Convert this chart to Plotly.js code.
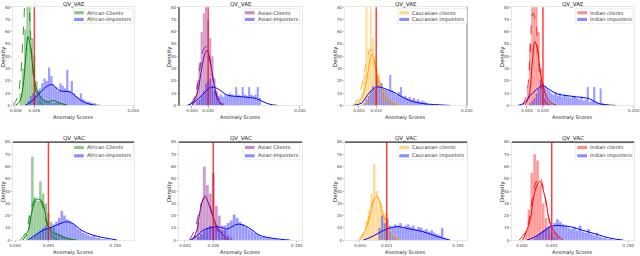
<!DOCTYPE html>
<html><head><meta charset="utf-8">
<script src="https://cdn.plot.ly/plotly-3.0.1.min.js"></script>
<style>html,body{margin:0;padding:0;background:#fff}#chart{width:640px;height:256px}</style>
</head><body><div id="chart"></div>
<script>
// ---------------- DATA ----------------
const titles = ["QV_VAE","QV_VAE","QV_VAE","QV_VAE","QV_VAC","QV_VAC","QV_VAC","QV_VAC"];
const clientLabels = ["African-Clients","Asian-Clients","Caucasian clients","Indian clients",
                      "African Clients","Asian Clients","Caucasian clients","Indian clients"];
const imposterLabels = ["African-Imposters","Asian-Imposters","Caucasian imposters","Indian imposters",
                        "African-Imposters","Asian-Imposters","Caucasian imposters","Indian imposters"];
const thresholds = [0.026,0.030,0.032,0.030,0.050,0.038,0.041,0.042];
const tickLeft  = [-0.008,0,0,0,0,0,0,0];
const tickRight = [0.2,0.2,0.2,0.2,0.15,0.15,0.15,0.15];
const xRanges = [[-0.0115,0.2014],[-0.024,0.204],[-0.026,0.2005],[-0.028,0.2005],
                 [-0.003,0.178],[-0.008,0.157],[-0.023,0.164],[-0.014,0.158]];
const yTicks = [0,10,20,30,40,50,60,70,80];
const binWidth = 0.004;

const clientStart = [0.000,0.000,0.000,0.000,0.016,0.012,0.004,0.004];
const clientHeights = [
  [10,30,62,90,85,55,40,20,12,8,5,4,3,3,2,2,3,2,2,1,1],
  [3,8,18,35,60,75,85,70,55,40,22,12,6,3,2],
  [4,10,25,82,45,85,55,40,30,25,18,12,8,6,4,3,2,1],
  [15,50,90,95,88,60,30,12,6,4,2,1],
  [5,20,68,35,32,48,38,30,22,15,10,6,5,4,3,2,2,1],
  [4,15,30,60,45,38,55,28,20,12,8,4,2],
  [6,15,25,38,62,40,28,25,22,12,6,3,2],
  [8,25,55,70,65,45,30,18,10,5,3,2]
];
const imposterStart = [0.014,0.008,0.008,0.004,0.024,0.016,0.028,0.016];
const imposterHeights = [
  [4,8,10,9,12,14,18,22,20,31,24,17,15,12,18,16,14,29,12,20,10,8,6,10,5,4,3,3,2,2,1,1],
  [3,5,8,12,18,20,22,16,12,10,8,9,7,9,8,10,9,8,15,9,8,15,9,8,15,9,8,9,15,6],
  [2,5,8,12,16,14,25,16,18,14,13,12,25,12,10,9,11,15,7,8,6,7,5,6,4,5,3,4,3,2,1],
  [2,4,6,10,14,21,18,16,14,12,10,9,11,8,10,7,9,8,7,6,8,7,6,5,7,4,5,15,3,4,15,3,2,14,2,1,1],
  [2,4,6,8,10,12,9,11,13,15,18,24,20,17,16,14,12,9,8,6,5,4,3,4,2,2,1,1,1],
  [3,5,8,10,12,11,10,9,8,12,14,16,21,18,15,13,11,9,8,6,5,3,3,2,2,1,1],
  [10,20,14,18,12,11,13,12,14,10,12,13,11,12,9,11,10,8,9,7,8,6,5,4,10,2],
  [2,4,6,8,10,12,11,14,17,15,13,12,10,9,11,8,12,7,6,9,5,4,6,3,2,2,1,1]
];
const clientKdeX = [
  [-0.008,0.000,0.006,0.011,0.015,0.020,0.025,0.031,0.040,0.050,0.059,0.071,0.084],
  [0.000,0.010,0.018,0.024,0.028,0.033,0.040,0.046,0.052,0.058],
  [-0.008,0.005,0.014,0.020,0.024,0.028,0.034,0.044,0.052,0.061,0.076],
  [-0.004,0.004,0.010,0.015,0.020,0.024,0.030,0.039,0.048,0.056],
  [0.012,0.020,0.026,0.032,0.038,0.043,0.048,0.056,0.063,0.070,0.080,0.092],
  [0.010,0.016,0.020,0.024,0.027,0.031,0.035,0.040,0.045,0.050,0.058],
  [0.000,0.012,0.020,0.026,0.034,0.041,0.051,0.061],
  [0.001,0.011,0.018,0.025,0.033,0.040,0.050,0.058]
];
const clientKdeY = [
  [0,3,15,40,56,45,25,12,5,3,4,2,0],
  [0,10,30,42,45,38,20,8,2,0],
  [0,6,20,36,42,36,24,13,6,3,0],
  [0,8,35,52,45,31,16,5,1.5,0],
  [0,8,25,33,33,28,14,6,5,3,1,0],
  [0,8,23,33,36,31,24,15,9,5,0],
  [0,13,31,36,23,13,4,0],
  [0,15,39,48,34,13,4,0]
];
const clientFitX = [
  [-0.012,-0.004,0.002,0.007,0.011,0.016,0.021,0.027,0.034,0.042],
  [-0.004,0.006,0.014,0.020,0.026,0.032,0.038,0.045,0.054],
  [-0.012,-0.002,0.008,0.016,0.022,0.028,0.036,0.046,0.058],
  [-0.008,0.000,0.006,0.011,0.016,0.021,0.027,0.034,0.042],
  [0.008,0.016,0.022,0.028,0.034,0.040,0.046,0.054,0.064],
  [0.006,0.014,0.020,0.026,0.032,0.038,0.045,0.054],
  [-0.004,0.006,0.014,0.020,0.026,0.032,0.040,0.050,0.060],
  [-0.004,0.006,0.013,0.019,0.025,0.031,0.038,0.046,0.056]
];
const clientFitY = [
  [0,6,25,62,88,80,45,15,4,0],
  [0,8,28,44,48,40,24,8,0],
  [0,5,22,40,46,38,20,6,0],
  [0,10,45,75,70,40,14,3,0],
  [0,6,20,32,36,30,16,4,0],
  [0,10,26,34,30,18,6,0],
  [0,6,20,32,36,30,16,4,0],
  [0,8,28,46,52,40,18,5,0]
];
const imposterKdeX = [
  [0.0096,0.020,0.027,0.0395,0.048,0.057,0.064,0.071,0.080,0.089,0.100,0.112,0.124,0.136],
  [-0.009,0.005,0.020,0.030,0.039,0.050,0.065,0.080,0.094,0.108,0.120,0.132,0.144,0.159],
  [-0.011,0.005,0.015,0.025,0.033,0.043,0.052,0.064,0.076,0.094,0.107,0.119,0.131,0.150,0.169],
  [-0.017,-0.005,0.006,0.018,0.030,0.042,0.056,0.075,0.093,0.105,0.117,0.128,0.135,0.150,0.167],
  [0.0195,0.030,0.042,0.057,0.070,0.078,0.088,0.097,0.107,0.117,0.128,0.138,0.153],
  [0.007,0.015,0.024,0.034,0.043,0.050,0.056,0.063,0.070,0.077,0.083,0.091,0.100,0.118,0.141],
  [0.005,0.015,0.026,0.041,0.057,0.077,0.096,0.118,0.138],
  [0.007,0.016,0.025,0.033,0.040,0.051,0.060,0.068,0.080,0.092,0.104,0.115,0.130,0.143]
];
const imposterKdeY = [
  [0,3,6,12,15.5,17,14.5,12,11.5,11,7,3,1,0],
  [0,3,9,13.5,15,13,8.5,7.5,7,6.5,5.5,3,1,0],
  [0,2,8,13,15,14.5,13,11,8,4,2.5,1.5,1,0.5,0],
  [0,2,8,13,16,13,9.5,8,7,6.5,5.5,3,1.5,0.5,0],
  [0,4,8,11,14,15,13,9,6,4,2.5,1.5,0],
  [0,3,8,10,11,10,9,11,13,12.5,11,8,4,1.5,0],
  [0,2,5,9,11,9,7,3,0],
  [0,2,5,8,11,12,11.5,11,9,7,5,3,1,0]
];

// ---------------- STYLE ----------------
const clientRGB = ["0,128,0","128,0,128","255,165,0","255,0,0"];
const blueRGB = "0,0,255";
const FONT = "DejaVu Sans";
const xDomains = [[0.0203,0.2094],[0.2797,0.4719],[0.539,0.7297],[0.8,0.9906]];
const yDomains = [[0.588,0.972],[0.062,0.445]];
const legendBoxX = [[0.49,0.99],[0.52,0.98],[0.43,1.0],[0.52,0.99]];
const legendBoxY = [[0.835,0.985],[0.82,0.985]];
const legendRowY = [[0.943,0.875],[0.945,0.86]];
const titleShift = [-1.5,-1];
const xTitleShift = [-7.5,-8];

const traces = [], shapes = [], annotations = [];
const layout = {
  width:640, height:256, margin:{l:0,r:0,t:0,b:0},
  paper_bgcolor:"#fff", plot_bgcolor:"#fff",
  showlegend:false, barmode:"overlay", bargap:0,
  font:{family:FONT, size:5, color:"#333"}
};

for (let i=0;i<8;i++){
  const row = i<4?0:1, col = i%4;
  const s = i===0?'':String(i+1);
  const xa = 'x'+s, ya = 'y'+s;
  const rgb = clientRGB[col];
  layout['xaxis'+s] = {
    domain:xDomains[col], anchor:ya, range:xRanges[i],
    tickvals:[tickLeft[i],thresholds[i],tickRight[i]],
    ticktext:[tickLeft[i],thresholds[i],tickRight[i]].map(v=>v.toFixed(3)),
    tickfont:{size:4,color:"#444",family:FONT}, ticks:"outside", ticklen:1.5, tickwidth:0.5, tickcolor:"#666",
    showgrid:false, zeroline:false, showline:true, mirror:true, linecolor:"#d8d8d8", linewidth:0.6
  };
  layout['yaxis'+s] = {
    domain:yDomains[row], anchor:xa, range:[0,80],
    tickvals:yTicks, tickfont:{size:4,color:"#444",family:FONT},
    ticks:"outside", ticklen:1.5, tickwidth:0.5, tickcolor:"#666",
    showgrid:false, zeroline:false, showline:true, mirror:true, linecolor:"#d8d8d8", linewidth:0.6
  };
  const cH = clientHeights[i], iH = imposterHeights[i];
  traces.push({type:'bar', name:clientLabels[i], xaxis:xa, yaxis:ya,
    x:cH.map((_,k)=>clientStart[i]+(k+0.5)*binWidth), y:cH, width:binWidth,
    marker:{color:`rgba(${rgb},0.4)`, line:{width:0.3,color:`rgba(255,255,255,0.5)`}}});
  traces.push({type:'bar', name:imposterLabels[i], xaxis:xa, yaxis:ya,
    x:iH.map((_,k)=>imposterStart[i]+(k+0.5)*binWidth), y:iH, width:binWidth,
    marker:{color:`rgba(${blueRGB},0.4)`, line:{width:0.3,color:`rgba(255,255,255,0.5)`}}});
  traces.push({type:'scatter', mode:'lines', xaxis:xa, yaxis:ya, x:clientFitX[i], y:clientFitY[i],
    line:{color:`rgb(${rgb})`, width:0.8, dash:'dash', shape:'spline'}});
  traces.push({type:'scatter', mode:'lines', xaxis:xa, yaxis:ya, x:clientKdeX[i], y:clientKdeY[i],
    line:{color:`rgb(${rgb})`, width:1, shape:'spline'}});
  traces.push({type:'scatter', mode:'lines', xaxis:xa, yaxis:ya, x:imposterKdeX[i], y:imposterKdeY[i],
    line:{color:`rgb(${blueRGB})`, width:1, shape:'spline'}});
  shapes.push({type:'line', xref:xa, yref:ya+' domain', x0:thresholds[i], x1:thresholds[i], y0:0, y1:1,
    line:{color:'rgba(255,0,0,0.75)', width:1.5}});
  if (row===1) shapes.push({type:'line', xref:xa+' domain', yref:ya+' domain', x0:0,x1:1,y0:1,y1:1, line:{color:'#333',width:1.2}});
  if (i===1) shapes.push({type:'line', xref:xa+' domain', yref:ya+' domain', x0:0,x1:0,y0:0,y1:1, line:{color:'#333',width:1.2}});
  if (i===2) shapes.push({type:'line', xref:xa+' domain', yref:ya+' domain', x0:1,x1:1,y0:0,y1:1, line:{color:'#888',width:1}});
  const bx = legendBoxX[col], by = legendBoxY[row];
  shapes.push({type:'rect', xref:xa+' domain', yref:ya+' domain', x0:bx[0], x1:bx[1], y0:by[0], y1:by[1],
    fillcolor:'rgba(255,255,255,0.8)', line:{color:'#ddd', width:0.5}});
  const rows = legendRowY[row];
  [[clientLabels[i],`rgba(${rgb},0.45)`],[imposterLabels[i],`rgba(${blueRGB},0.45)`]].forEach((e,r)=>{
    shapes.push({type:'rect', xref:xa+' domain', yref:ya+' domain', x0:bx[0]+0.015, x1:bx[0]+0.095,
      y0:rows[r]-0.016, y1:rows[r]+0.016, fillcolor:e[1], line:{width:0}});
    annotations.push({xref:xa+' domain', yref:ya+' domain', x:bx[0]+0.115, y:rows[r], xanchor:'left', yanchor:'middle',
      text:e[0], showarrow:false, borderpad:0, font:{size:5, color:'#333', family:FONT}});
  });
  annotations.push({xref:xa+' domain', yref:ya+' domain', x:0.5, y:1, yanchor:'bottom', yshift:titleShift[row],
    text:titles[i], showarrow:false, borderpad:0, font:{size:5.5, color:'#222', family:FONT}});
  annotations.push({xref:xa+' domain', yref:ya+' domain', x:0.5, y:0, yanchor:'top', yshift:xTitleShift[row],
    text:'Anomaly Scores', showarrow:false, borderpad:0, font:{size:5, color:'#222', family:FONT}});
  annotations.push({xref:xa+' domain', yref:ya+' domain', x:0, y:0.5, xanchor:'center', xshift:-10, textangle:-90,
    text:'Density', showarrow:false, borderpad:0, font:{size:5.5, color:'#222', family:FONT}});
}
layout.shapes = shapes;
layout.annotations = annotations;
Plotly.newPlot('chart', traces, layout, {displayModeBar:false, staticPlot:true});
</script>
</body></html>
